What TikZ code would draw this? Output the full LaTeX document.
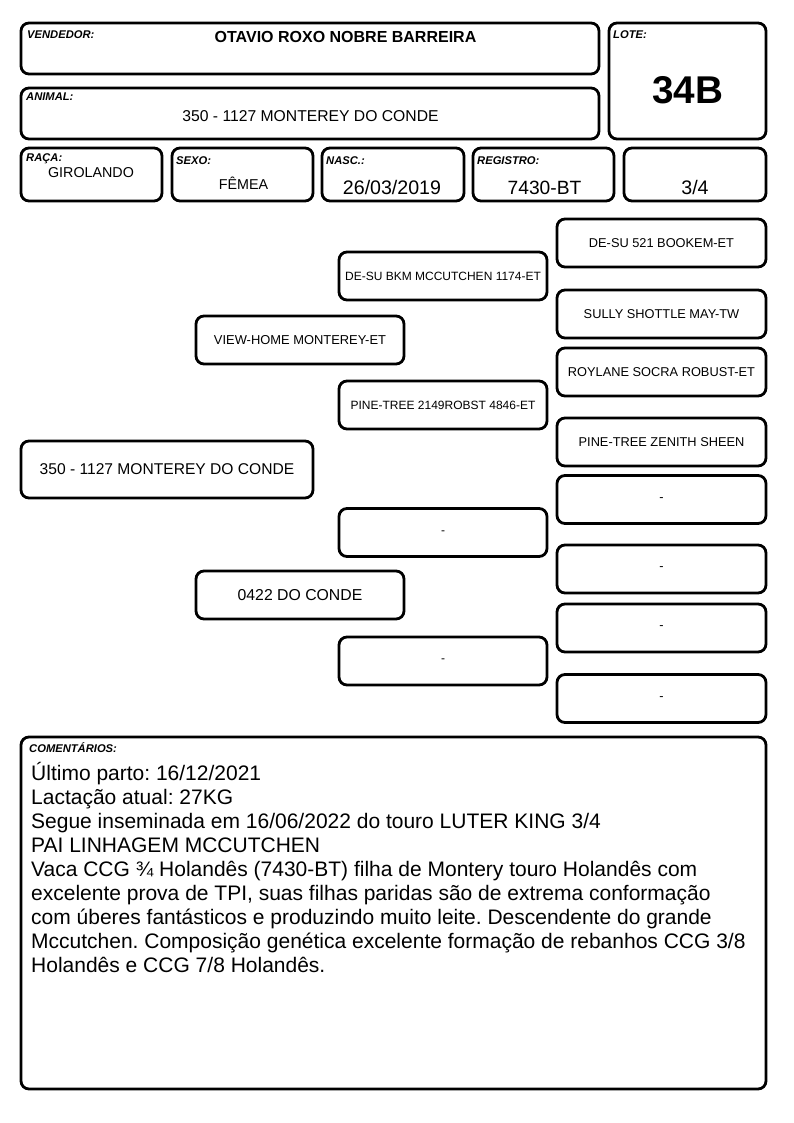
\documentclass[tikz,border=0pt]{standalone}
\usepackage{fontspec}
\setmainfont{Liberation Sans}
\frenchspacing
\begin{document}
\begin{tikzpicture}[x=1pt,y=-1pt,
  box/.style={draw, line width=2.8pt, rounded corners=8pt, inner sep=0pt, fill=white},
  lab/.style={anchor=base west, inner sep=0pt, font=\fontsize{11.2}{12}\selectfont\bfseries\itshape},
  val/.style={anchor=base, inner sep=0pt, font=\fontsize{#1}{#1}\selectfont},
  pb/.style={box, minimum width=209pt, minimum height=48pt, font=\fontsize{12.8}{14}\selectfont},
  pc/.style={box, minimum width=208pt, minimum height=48pt, font=\fontsize{12}{14}\selectfont},
  comline/.style={anchor=base west, inner sep=0pt, font=\fontsize{21}{24}\selectfont}]
\useasboundingbox[fill=white] (0,0) rectangle (794,1123);

% header boxes
\node[box, minimum width=578pt, minimum height=51pt] (vend) at (310,48.5) {};
\node[box, minimum width=578pt, minimum height=51pt] (anim) at (310,113.5) {};
\node[box, minimum width=157pt, minimum height=116pt] (lote) at (687.5,81) {};
\node[box, minimum width=141pt, minimum height=53pt] (raca) at (91.5,174.5) {};
\node[box, minimum width=141pt, minimum height=53pt] (sexo) at (242.5,174.5) {};
\node[box, minimum width=142pt, minimum height=53pt] (nasc) at (393,174.5) {};
\node[box, minimum width=141pt, minimum height=53pt] (reg) at (543.5,174.5) {};
\node[box, minimum width=142pt, minimum height=53pt] (frac) at (695,174.5) {};

\node[lab] (lvend) at (27,39) {VENDEDOR:};
\node[val=16, font=\fontsize{16}{16}\selectfont\bfseries] (tvend) at (345.5,43) {OTAVIO ROXO NOBRE BARREIRA};
\node[lab] (lanim) at (26,101) {ANIMAL:};
\node[val=15.7] (tanim) at (310.5,121.5) {350 - 1127 MONTEREY DO CONDE};
\node[lab] (llote) at (613,39) {LOTE:};
\node[val=38.7, font=\fontsize{38.7}{40}\selectfont\bfseries] (tlote) at (687.5,104) {34B};

\node[lab] (lraca) at (26,162) {RAÇA:};
\node[val=14.3] (traca) at (91,178) {GIROLANDO};
\node[lab] (lsexo) at (176,165) {SEXO:};
\node[val=14.3] (tsexo) at (243.5,190) {FÊMEA};
\node[lab] (lnasc) at (326,165) {NASC.:};
\node[val=19.6] (tnasc) at (392,195) {26/03/2019};
\node[lab] (lreg) at (477,165) {REGISTRO:};
\node[val=19.2] (treg) at (544.5,194.5) {7430-BT};
\node[val=19.6] (tfrac) at (695,194.5) {3/4};

% pedigree
\node[pb] (g1) at (661.5,243) {DE-SU 521 BOOKEM-ET};
\node[pb] (g2) at (661.5,314) {SULLY SHOTTLE MAY-TW};
\node[pb] (g3) at (661.5,372) {ROYLANE SOCRA ROBUST-ET};
\node[pb] (g4) at (661.5,442) {PINE-TREE ZENITH SHEEN};
\node[pb] (g5) at (661.5,499.5) {-};
\node[pb] (g6) at (661.5,569) {-};
\node[pb] (g7) at (661.5,628) {-};
\node[pb] (g8) at (661.5,698.5) {-};

\node[pc] (p1) at (443,276) {DE-SU BKM MCCUTCHEN 1174-ET};
\node[pc] (p2) at (443,405) {PINE-TREE 2149ROBST 4846-ET};
\node[pc] (p3) at (443,532.5) {-};
\node[pc] (p4) at (443,661) {-};

\node[box, minimum width=208pt, minimum height=48pt, font=\fontsize{12.9}{14}\selectfont] (s1) at (300,340) {VIEW-HOME MONTEREY-ET};
\node[box, minimum width=208pt, minimum height=48pt, font=\fontsize{15.8}{16}\selectfont] (s2) at (300,595) {0422 DO CONDE};

\node[box, minimum width=292pt, minimum height=57pt, font=\fontsize{15.6}{16}\selectfont] (a1) at (167,469.5) {350 - 1127 MONTEREY DO CONDE};

% comments
\node[box, minimum width=745pt, minimum height=352pt] (com) at (393.5,913) {};
\node[lab] (lcom) at (29,752) {COMENTÁRIOS:};
\node[comline] (c1) at (31,780) {Último parto: 16/12/2021};
\node[comline] (c2) at (31,804) {Lactação atual: 27KG};
\node[comline] (c3) at (31,828) {Segue inseminada em 16/06/2022 do touro LUTER KING 3/4};
\node[comline] (c4) at (31,852) {PAI LINHAGEM MCCUTCHEN};
\node[comline] (c5) at (31,876) {Vaca CCG ¾ Holandês (7430-BT) filha de Montery touro Holandês com};
\node[comline] (c6) at (31,900) {excelente prova de TPI, suas filhas paridas são de extrema conformação};
\node[comline] (c7) at (31,924) {com úberes fantásticos e produzindo muito leite. Descendente do grande};
\node[comline] (c8) at (31,948) {Mccutchen. Composição genética excelente formação de rebanhos CCG 3/8};
\node[comline] (c9) at (31,972) {Holandês e CCG 7/8 Holandês.};
\end{tikzpicture}
\end{document}
